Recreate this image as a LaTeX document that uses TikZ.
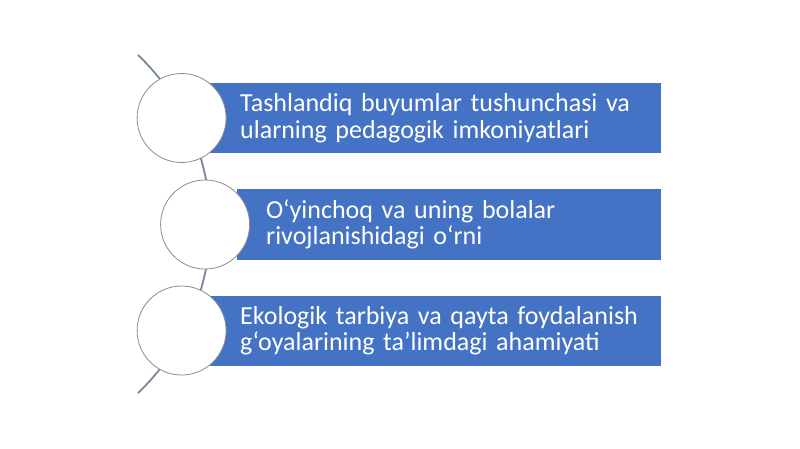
\documentclass[tikz,border=0pt]{standalone}
\usepackage{fontspec}
\setmainfont{Carlito}
\usetikzlibrary{positioning}
\definecolor{boxblue}{HTML}{4472C4}
\definecolor{arcgray}{HTML}{7B879C}
\definecolor{ringgray}{HTML}{8C8C8C}
\tikzset{
  item/.style={rectangle, fill=boxblue, text=white, anchor=west, text width=391pt,
    minimum height=70pt, inner xsep=30pt, align=left,
    font=\fontsize{26}{26.5}\selectfont},
  ring/.style={circle, draw=ringgray, line width=0.8pt, fill=white, minimum size=89pt, inner sep=0pt},
}
\begin{document}
\begin{tikzpicture}[x=1pt,y=-1pt]
  \useasboundingbox [fill=white] (0,0) rectangle (800,449);

  %% la linea curva dietro ai cerchi
  \coordinate (arctop) at (138,55);
  \draw [arcgray, line width=1.8pt] (arctop) arc [start angle=46.3, end angle=-46.3, radius=233.8pt] coordinate (arcbot);

  %% i rettangoli blu
  \node [item] (b1) at (210,118) {Tashlandiq buyumlar tushunchasi va\\ularning pedagogik imkoniyatlari};
  \node [item, text width=366pt, inner xsep=29pt] (b2) at (237,224.5) {O‘yinchoq va uning bolalar\\rivojlanishidagi o‘rni};
  \node [item] (b3) at (210,330.5) {\mbox{Ekologik tarbiya va qayta foydalanish}\\g‘oyalarining ta’limdagi ahamiyati};

  %% i cerchi bianchi sopra i rettangoli
  \node [ring, left=-16.5pt of b1] (c1) {};
  \node [ring, left=-13pt of b2] (c2) {};
  \node [ring, left=-16.5pt of b3] (c3) {};
\end{tikzpicture}
\end{document}
